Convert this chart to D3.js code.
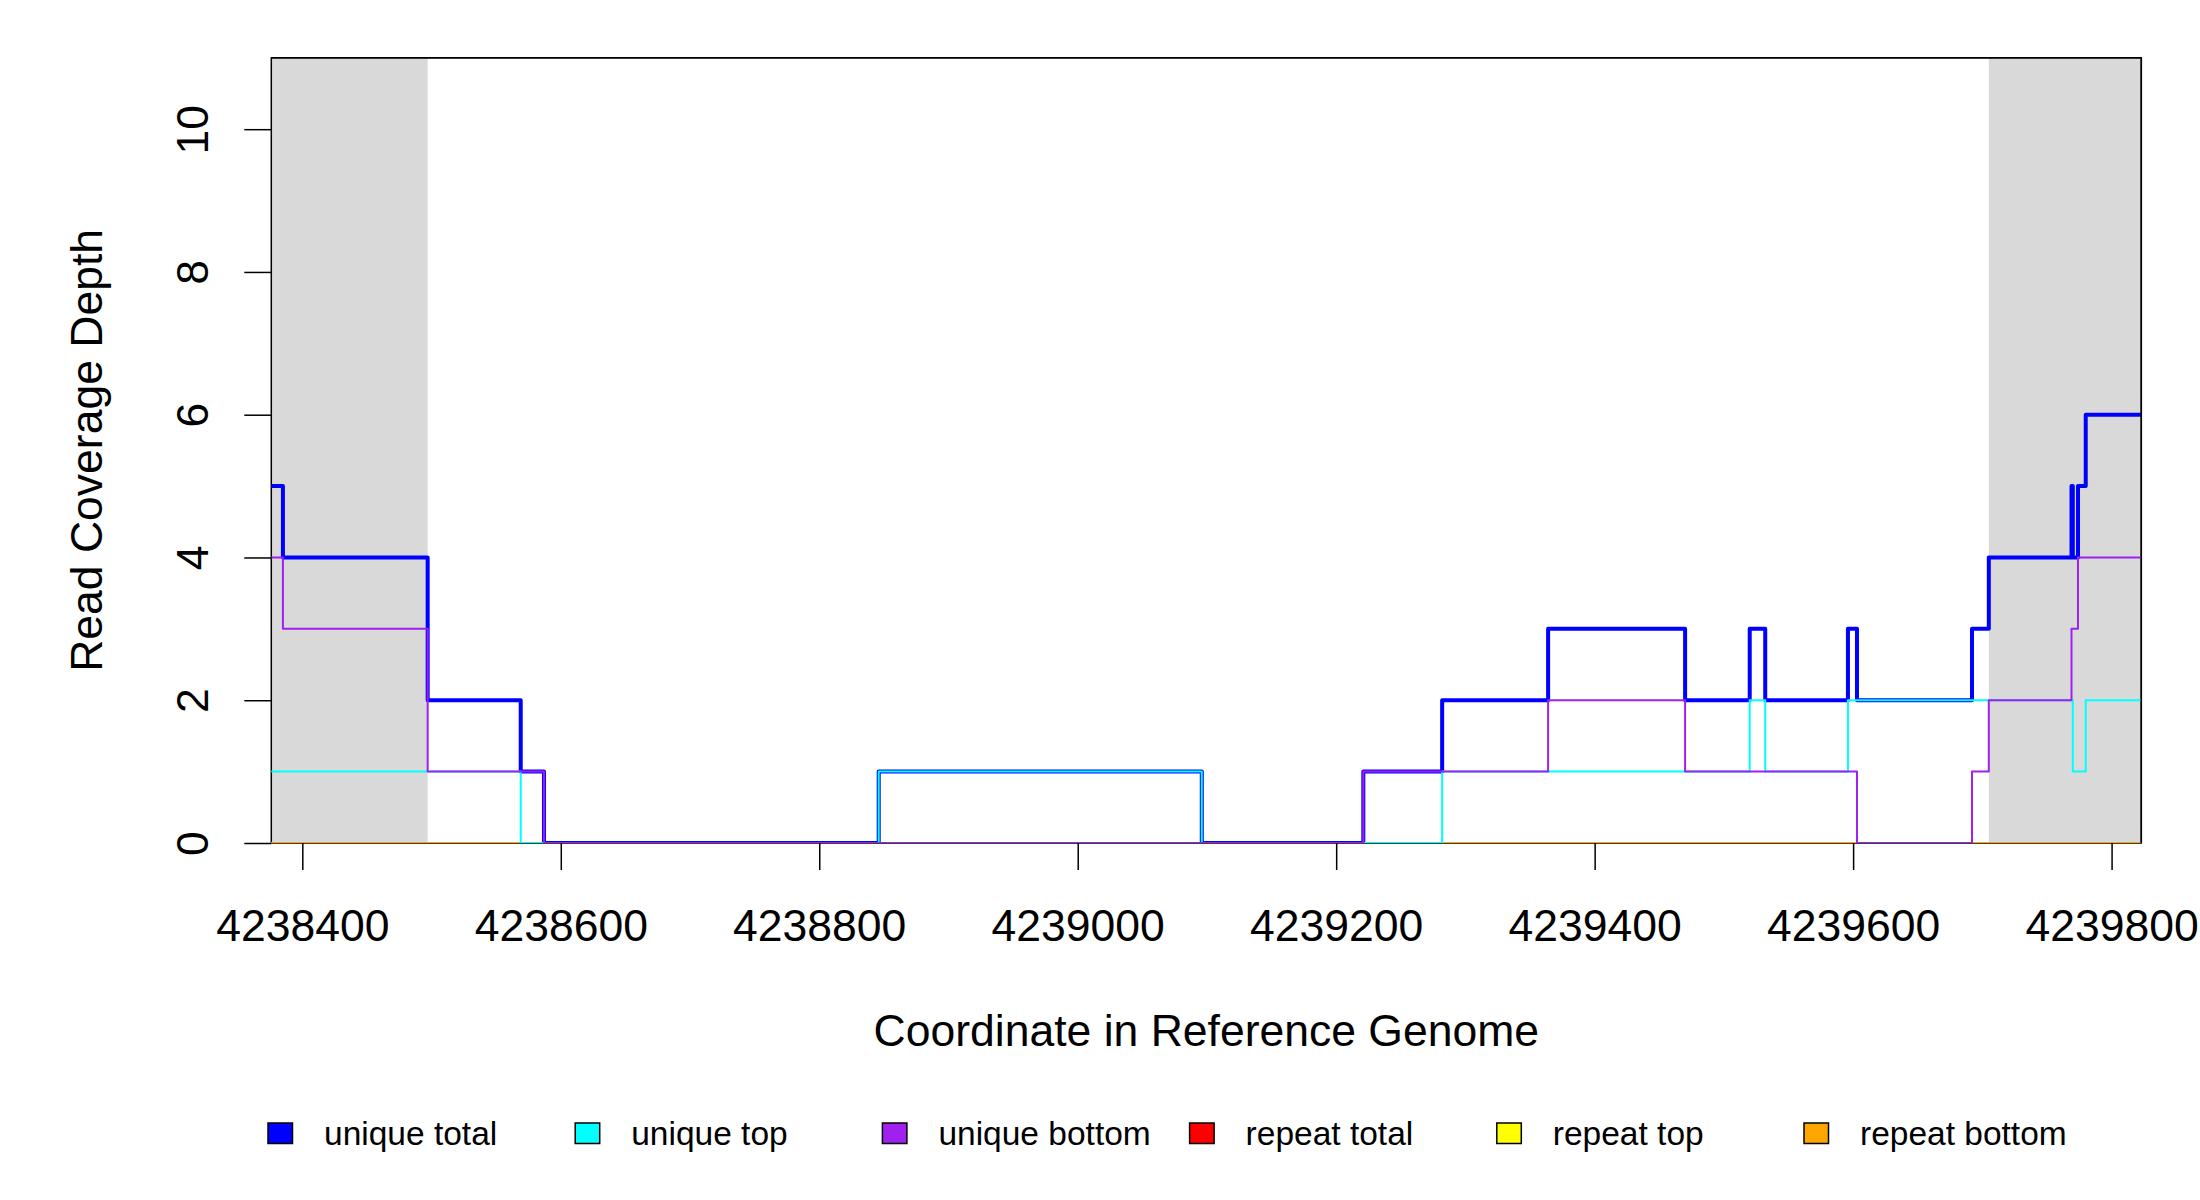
<!DOCTYPE html>
<html>
<head>
<meta charset="utf-8">
<script src="https://cdn.jsdelivr.net/npm/d3@7"></script>
<style>
    body { margin: 0; background: #fff; }
    text { font-family: "Liberation Sans", Arial, sans-serif; fill: #000; }
</style>
</head>
<body>
<div id="chart"></div>
<script>
// coverage depth as [start coordinate, depth] steps; each holds until the next start
const regionStart = 4238376;
const regionEnd = 4239823;

const uniqueTotal = [
    [4238376, 5], [4238385, 4], [4238497, 2], [4238569, 1], [4238587, 0],
    [4238846, 1], [4239096, 0], [4239221, 1], [4239282, 2], [4239364, 3],
    [4239470, 2], [4239520, 3], [4239532, 2], [4239596, 3], [4239603, 2],
    [4239692, 3], [4239705, 4], [4239769, 5], [4239770, 4], [4239774, 5],
    [4239780, 6]
];
const uniqueTop = [
    [4238376, 1], [4238569, 0], [4238846, 1], [4239096, 0], [4239282, 1],
    [4239520, 2], [4239532, 1], [4239596, 2], [4239770, 1], [4239780, 2]
];
const uniqueBottom = [
    [4238376, 4], [4238385, 3], [4238497, 1], [4238587, 0], [4239221, 1],
    [4239364, 2], [4239470, 1], [4239603, 0], [4239692, 1], [4239705, 2],
    [4239769, 3], [4239774, 4]
];
const repeatTotal = [[4238376, 0]];
const repeatTop = [[4238376, 0]];
const repeatBottom = [[4238376, 0]];

// shaded flanks
const shadedRegions = [[4238376, 4238497], [4239705, 4239823]];

const xTicks = [4238400, 4238600, 4238800, 4239000, 4239200, 4239400, 4239600, 4239800];
const yTicks = [0, 2, 4, 6, 8, 10];

const legendNames = ["unique total", "unique top", "unique bottom", "repeat total", "repeat top", "repeat bottom"];
const legendColors = ["#0000ff", "#00ffff", "#a020f0", "#ff0000", "#ffff00", "#ffa500"];

const width = 2200;
const height = 1200;
const plot = { left: 271.3, right: 2141.3, top: 57.8, bottom: 843 };

const svg = d3.select("#chart")
    .append("svg")
    .attr("width", width)
    .attr("height", height);

const x = d3.scaleLinear()
    .domain([regionStart, regionEnd])
    .range([plot.left, plot.right]);

const y = d3.scaleLinear()
    .domain([0, 11])
    .range([plot.bottom, plot.top]);

svg.append("defs").append("clipPath")
    .attr("id", "plot-clip")
    .append("rect")
    .attr("x", plot.left)
    .attr("y", plot.top)
    .attr("width", plot.right - plot.left)
    .attr("height", plot.bottom - plot.top);

svg.append("g")
    .selectAll("rect")
    .data(shadedRegions)
    .enter()
    .append("rect")
    .attr("x", d => x(d[0]))
    .attr("y", plot.top)
    .attr("width", d => x(d[1]) - x(d[0]))
    .attr("height", plot.bottom - plot.top)
    .attr("fill", "#d9d9d9");

// frame goes under the lines so the zero-depth lines stay visible
svg.append("rect")
    .attr("x", plot.left)
    .attr("y", plot.top)
    .attr("width", plot.right - plot.left)
    .attr("height", plot.bottom - plot.top)
    .attr("fill", "none")
    .attr("stroke", "#000")
    .attr("stroke-width", 1.5);

const stepLine = d3.line()
    .x(d => x(d[0]))
    .y(d => y(d[1]))
    .curve(d3.curveStepAfter);

function withEnd(steps) {
    return steps.concat([[regionEnd, steps[steps.length - 1][1]]]);
}

// repeat series first, unique ones drawn over them
const series = [
    { data: repeatTotal, color: legendColors[3], width: 2 },
    { data: repeatTop, color: legendColors[4], width: 2 },
    { data: repeatBottom, color: legendColors[5], width: 2 },
    { data: uniqueTotal, color: legendColors[0], width: 4 },
    { data: uniqueTop, color: legendColors[1], width: 2 },
    { data: uniqueBottom, color: legendColors[2], width: 2 }
];

svg.append("g")
    .attr("clip-path", "url(#plot-clip)")
    .selectAll("path")
    .data(series)
    .enter()
    .append("path")
    .attr("d", d => stepLine(withEnd(d.data)))
    .attr("fill", "none")
    .attr("stroke", d => d.color)
    .attr("stroke-width", d => d.width)
    .attr("stroke-linejoin", "round")
    .attr("stroke-linecap", "round");

// right and top edges of the frame stay on top
svg.append("path")
    .attr("d", `M${plot.left},${plot.top}H${plot.right}V${plot.bottom}`)
    .attr("fill", "none")
    .attr("stroke", "#000")
    .attr("stroke-width", 1.5);

const xAxis = svg.append("g")
    .attr("transform", `translate(0,${plot.bottom})`)
    .call(d3.axisBottom(x)
        .tickValues(xTicks)
        .tickSize(27)
        .tickPadding(39)
        .tickFormat(d3.format("d")));
xAxis.select(".domain").remove();
xAxis.selectAll("line").attr("stroke", "#000").attr("stroke-width", 1.5);
xAxis.selectAll("text")
    .style("font-size", "44.5px")
    .attr("fill", "#000");

const yAxis = svg.append("g")
    .attr("transform", `translate(${plot.left},0)`)
    .call(d3.axisLeft(y)
        .tickValues(yTicks)
        .tickSize(27));
yAxis.select(".domain").remove();
yAxis.selectAll("line").attr("stroke", "#000").attr("stroke-width", 1.5);
yAxis.selectAll("text")
    .attr("x", null)
    .attr("dy", null)
    .attr("transform", "translate(-63,0) rotate(-90)")
    .attr("text-anchor", "middle")
    .style("font-size", "44.5px")
    .attr("fill", "#000");

svg.append("text")
    .attr("transform", `translate(102,${(plot.top + plot.bottom) / 2}) rotate(-90)`)
    .attr("text-anchor", "middle")
    .style("font-size", "44.5px")
    .text("Read Coverage Depth");

svg.append("text")
    .attr("x", (plot.left + plot.right) / 2)
    .attr("y", 1046)
    .attr("text-anchor", "middle")
    .style("font-size", "44.5px")
    .text("Coordinate in Reference Genome");

const legend = svg.append("g")
    .selectAll("g")
    .data(legendNames)
    .enter()
    .append("g")
    .attr("transform", (d, i) => `translate(${268 + i * 307.2},1123)`);

legend.append("rect")
    .attr("width", 24.5)
    .attr("height", 20.5)
    .attr("fill", (d, i) => legendColors[i])
    .attr("stroke", "#000")
    .attr("stroke-width", 1.5);

legend.append("text")
    .attr("x", 56)
    .attr("y", 22)
    .style("font-size", "33.5px")
    .text(d => d);
</script>
</body>
</html>
